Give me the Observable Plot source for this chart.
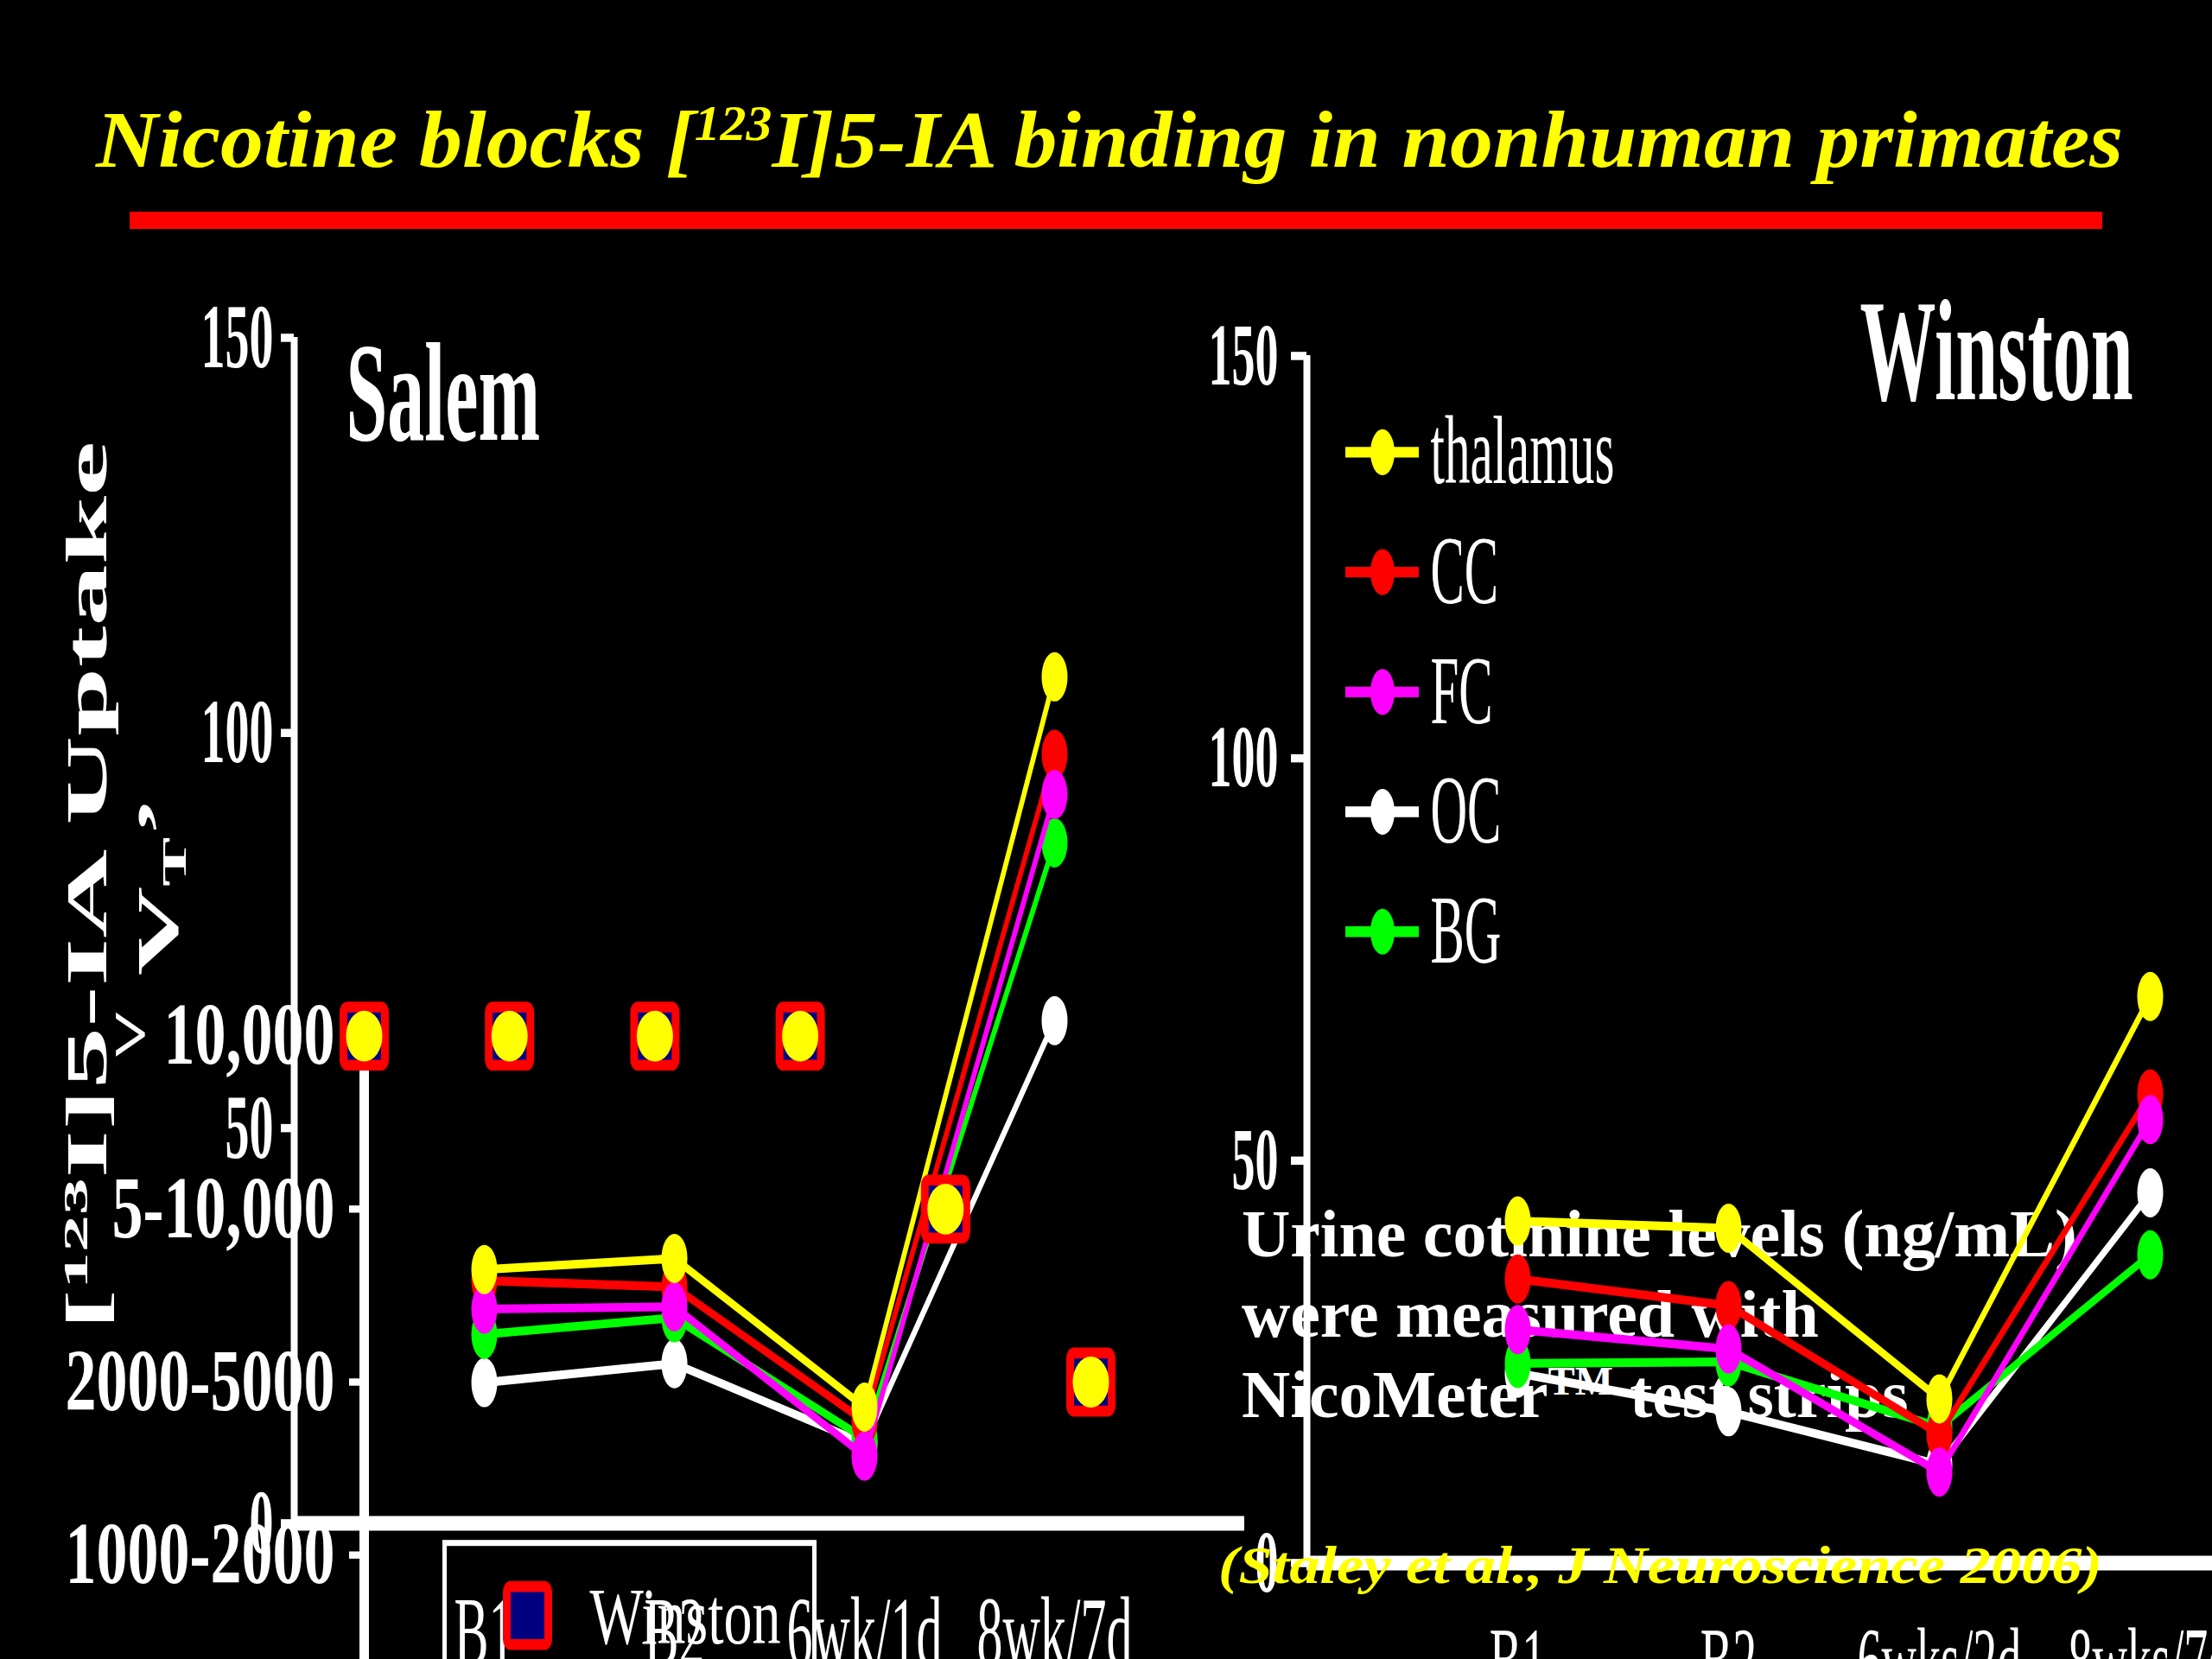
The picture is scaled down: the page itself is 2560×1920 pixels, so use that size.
<!DOCTYPE html>
<html>
<head>
<meta charset="utf-8">
<script src="https://cdn.jsdelivr.net/npm/d3@7"></script>
<script src="https://cdn.jsdelivr.net/npm/@observablehq/plot@0.6"></script>
<style>
html, body { margin: 0; padding: 0; background: #000; overflow: hidden; }
#slide { position: relative; width: 2560px; height: 1920px; overflow: hidden; background: #000; font-family: "Liberation Serif", "Times New Roman", serif; }
.layer { position: absolute; left: 0; top: 0; transform-origin: 0 0; }
.txt { position: absolute; white-space: nowrap; transform-origin: 0 0; font-family: "Liberation Serif", "Times New Roman", serif; }
.sup { font-size: 0.6em; position: relative; top: -0.55em; }
.sub { font-size: 0.6em; position: relative; top: 0.25em; }
</style>
</head>
<body>
<div id="slide"></div>
<script>
// ---------------- data ----------------
const regions = ["thalamus", "CC", "FC", "OC", "BG"];
const regionColors = ["#ffff00", "#ff0000", "#ff00ff", "#ffffff", "#00ff00"];
const drawOrder = ["OC", "BG", "CC", "FC", "thalamus"];

const salemTimes = ["B1", "B2", "6wk/1d", "8wk/7d"];
const salemThalamus = [32.1, 33.5, 14.7, 107.1];
const salemCC = [30.7, 29.9, 12.9, 97.3];
const salemFC = [27.1, 27.4, 8.5, 92.2];
const salemOC = [17.8, 20.2, 10.1, 63.6];
const salemBG = [23.9, 26.0, 10.7, 86.1];

const winstonTimes = ["B1", "B2", "6wks/2d", "8wks/7d"];
const winstonThalamus = [42.5, 41.6, 20.4, 70.4];
const winstonCC = [35.3, 32.0, 16.0, 58.3];
const winstonFC = [29.0, 26.6, 11.3, 55.1];
const winstonOC = [23.6, 18.8, 12.2, 46.0];
const winstonBG = [24.8, 25.0, 16.9, 38.3];

const vtTicks = [0, 50, 100, 150];

const cotinineLevels = ["> 10,000", "5-10,000", "2000-5000", "1000-2000"];
const cotinineScan = [0, 1, 2, 3, 4, 5];
const cotinineWinston = ["> 10,000", "> 10,000", "> 10,000", "> 10,000", "5-10,000", "2000-5000"];
const cotinineSalem = ["> 10,000", "> 10,000", "> 10,000", "> 10,000", "5-10,000", "2000-5000"];
const cotinineLegend = ["Winston"];

// ---------------- helpers ----------------
const slide = document.getElementById("slide");
const H = 1920, K = 1.9, KC = 1.4;
const FONT = "'Liberation Serif', 'Times New Roman', serif";

function addLayer(svg, k) {
  svg.classList.add("layer");
  svg.style.background = "transparent";
  svg.style.maxWidth = "none";
  svg.style.overflow = "visible";
  svg.style.width = svg.getAttribute("width") + "px";
  svg.style.height = svg.getAttribute("height") + "px";
  svg.style.transform = `scaleY(${k})`;
  slide.appendChild(svg);
}

function addText(html, css) {
  const d = document.createElement("div");
  d.className = "txt";
  d.innerHTML = html;
  Object.assign(d.style, css);
  slide.appendChild(d);
  return d;
}

function fitWidth(el, target) {
  const w = el.getBoundingClientRect().width;
  el.style.transform = `scaleX(${target / w})`;
}

const roundedSquare = {
  draw(ctx, size) {
    const h = Math.sqrt(size / Math.PI);
    const c = h * 0.18;
    ctx.moveTo(-h + c, -h);
    ctx.lineTo(h - c, -h);
    ctx.arcTo(h, -h, h, -h + c, c);
    ctx.lineTo(h, h - c);
    ctx.arcTo(h, h, h - c, h, c);
    ctx.lineTo(-h + c, h);
    ctx.arcTo(-h, h, -h, h - c, c);
    ctx.lineTo(-h, -h + c);
    ctx.arcTo(-h, -h, -h + c, -h, c);
    ctx.closePath();
  }
};

const baseStyle = {fontFamily: FONT, color: "white", background: "transparent", overflow: "visible"};

function vtPlot(o) {
  const h = H / K;
  const rows = [];
  regions.forEach((reg, i) => o.times.forEach((t, j) =>
    rows.push({region: reg, color: regionColors[i], pos: j + 1, vt: o.series[i][j]})));
  const marks = [
    Plot.ruleY([0], {stroke: "white", strokeWidth: 9}),
    Plot.ruleX([0], {stroke: "white", strokeWidth: 8}),
    Plot.axisY({ticks: vtTicks, tickSize: o.tickSize, tickPadding: o.tickPadding, label: null,
      fontSize: o.yFont, fontWeight: "bold", strokeWidth: 5}),
    Plot.axisX({ticks: [1, 2, 3, 4], tickFormat: p => o.times[p - 1], tickSize: 0, label: null,
      tickPadding: o.xPad, fontSize: o.xFont}),
    Plot.text([o.name], {frameAnchor: "top-left", dx: o.nameDx, dy: o.nameDy,
      fontSize: o.nameFont, fontWeight: "bold", textAnchor: "start", lineAnchor: "top", fill: "white"})
  ];
  for (const reg of drawOrder) {
    const sub = rows.filter(r => r.region === reg);
    const c = sub[0].color;
    marks.push(Plot.line(sub, {x: "pos", y: "vt", stroke: c, strokeWidth: 5.3}));
    marks.push(Plot.dot(sub, {x: "pos", y: "vt", r: 15, fill: c}));
  }
  return Plot.plot({
    width: o.width, height: h,
    marginLeft: o.left, marginRight: o.width - o.right,
    marginTop: o.top / K, marginBottom: h - o.bottom / K,
    x: {domain: [0, 5]},
    y: {domain: [0, 150]},
    style: baseStyle,
    marks
  });
}

// ---------------- title & rule ----------------
const title = addText('Nicotine blocks [<span class="sup">123</span>I]5-IA binding in nonhuman primates',
  {left: "111px", top: "114px", font: `italic bold 94px/1 ${FONT}`, color: "#ffff00"});
fitWidth(title, 2346);

const bar = document.createElement("div");
Object.assign(bar.style, {position: "absolute", left: "150px", top: "245px", width: "2283px", height: "20px", background: "#ff0000"});
slide.appendChild(bar);

// ---------------- urine text (under charts) ----------------
const urine = addText('Urine cotinine levels (ng/mL)<br>were measured with<br>NicoMeter<span class="sup">TM</span> test strips',
  {left: "1437px", top: "1381px", font: `bold 78px/93px ${FONT}`, color: "#ffffff"});
fitWidth(urine, 967);

// ---------------- Salem ----------------
addLayer(vtPlot({
  name: "Salem", times: salemTimes,
  series: [salemThalamus, salemCC, salemFC, salemOC, salemBG],
  width: 2560, left: 340, right: 1440, top: 390, bottom: 1762,
  tickSize: 15, tickPadding: 9, yFont: 56, xPad: 44, xFont: 60,
  nameDx: 60, nameDy: 1, nameFont: 86
}), K);

// ---------------- Winston ----------------
addLayer(vtPlot({
  name: "Winston", times: winstonTimes,
  series: [winstonThalamus, winstonCC, winstonFC, winstonOC, winstonBG],
  width: 2800, left: 1512, right: 2732, top: 411, bottom: 1808,
  tickSize: 18, tickPadding: 15, yFont: 54, xPad: 38, xFont: 56,
  nameDx: 640, nameDy: -36, nameFont: 88
}), K);

// ---------------- Winston region legend ----------------
addLayer(Plot.plot({
  width: 2560, height: H / K,
  marginLeft: 1557, marginRight: 2560 - 1642,
  marginTop: 522 / K, marginBottom: H / K - 1078 / K,
  x: {domain: [0, 1], axis: null},
  y: {type: "point", domain: regions, padding: 0, axis: null},
  color: {domain: regions, range: regionColors},
  style: baseStyle,
  marks: [
    Plot.ruleY(regions, {y: d => d, x1: () => 0, x2: () => 1, stroke: d => d, strokeWidth: 6.5}),
    Plot.dot(regions, {x: () => 0.5, y: d => d, r: 14, fill: d => d}),
    Plot.text(regions, {x: () => 1, y: d => d, text: d => d, dx: 13, textAnchor: "start",
      fontSize: 59, fill: "white"})
  ]
}), K);

// ---------------- cotinine chart ----------------
const cotW = cotinineScan.map((s, i) => ({scan: s, level: cotinineWinston[i]}));
const cotS = cotinineScan.map((s, i) => ({scan: s, level: cotinineSalem[i]}));
addLayer(Plot.plot({
  width: 2560, height: H / KC,
  marginLeft: 421, marginRight: 2560 - 1262,
  marginTop: 1197 / KC, marginBottom: 0,
  x: {domain: [0, 5], axis: null},
  y: {type: "point", domain: cotinineLevels, padding: 0, range: [1197 / KC, 1800 / KC]},
  style: baseStyle,
  marks: [
    Plot.ruleX([0], {stroke: "white", strokeWidth: 11}),
    Plot.axisY({tickSize: 17, tickPadding: 17, label: null, fontSize: 72, fontWeight: "bold", strokeWidth: 6}),
    Plot.dot(cotW, {x: "scan", y: "level", symbol: roundedSquare, r: 24,
      fill: "#000080", stroke: "#ff0000", strokeWidth: 9}),
    Plot.dot(cotS, {x: "scan", y: "level", r: 21, fill: "#ffff00"})
  ]
}), KC);

// ---------------- cotinine legend ----------------
addLayer(Plot.plot({
  width: 2560, height: 2000 / KC,
  marginLeft: 514, marginRight: 2560 - 942,
  marginTop: 1785 / KC, marginBottom: 0,
  style: baseStyle,
  marks: [
    Plot.frame({stroke: "white", strokeWidth: 5}),
    Plot.dot(cotinineLegend, {frameAnchor: "top-left", dx: 96, dy: 60, symbol: roundedSquare, r: 24,
      fill: "#000080", stroke: "#ff0000", strokeWidth: 9}),
    Plot.text(cotinineLegend, {frameAnchor: "top-left", dx: 168, dy: 62, textAnchor: "start",
      lineAnchor: "middle", fontSize: 66, fill: "white"})
  ]
}), KC);

// ---------------- y-axis title ----------------
addText('[<span class="sup">123</span>I]5-IA Uptake<br>V<span class="sub">T</span>’',
  {left: "146px", top: "1025px", font: `bold 68px/73px ${FONT}`, color: "#ffffff", textAlign: "center",
   transformOrigin: "50% 50%", transform: "translate(-50%, -50%) rotate(-90deg) scaleX(2.1)"});

// ---------------- citation ----------------
const cite = addText('(Staley et al., J Neuroscience 2006)',
  {left: "1410px", top: "1780px", font: `italic bold 62px/1 ${FONT}`, color: "#ffff00"});
fitWidth(cite, 1023);
</script>
</body>
</html>
